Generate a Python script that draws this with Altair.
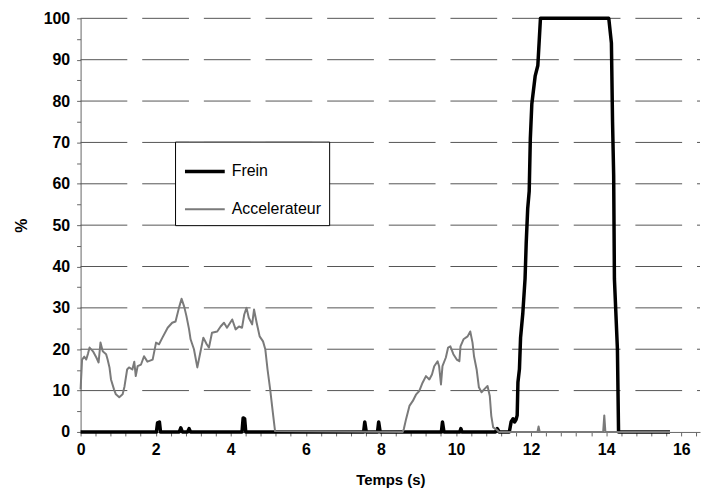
import altair as alt
import pandas as pd

# ---- data ----
series_names = ["Frein", "Accelerateur"]

frein_t = [0.00, 2.02, 2.05, 2.10, 2.13, 2.63, 2.67, 2.71, 2.85, 2.89, 2.93,
           4.30, 4.33, 4.37, 4.40, 7.54, 7.57, 7.61, 7.91, 7.94, 7.98,
           9.61, 9.64, 9.68, 10.10, 10.13, 10.16, 11.05, 11.10, 11.15,
           11.42, 11.47, 11.52, 11.56, 11.60, 11.63, 11.65, 11.69, 11.72,
           11.78, 11.84, 11.87, 11.91, 11.95, 11.98, 12.02, 12.11, 12.18,
           12.25, 14.07, 14.14, 14.17, 14.20, 14.22, 14.30, 14.33, 15.70]
frein_v = [0, 0, 2.2, 2.4, 0, 0, 1.0, 0, 0, 0.8, 0,
           0, 3.4, 3.2, 0, 0, 2.4, 0, 0, 2.4, 0,
           0, 2.4, 0, 0, 0.8, 0, 0, 0.8, 0,
           0, 2.5, 3.2, 2.4, 3.0, 4.0, 12.0, 15.2, 22.8,
           28.7, 37.1, 45.6, 54.0, 58.2, 70.9, 79.3, 86.1, 88.6,
           100, 100, 94, 75, 62, 37, 20, 0, 0]

accel_t = [0.00, 0.04, 0.10, 0.15, 0.20, 0.24, 0.33, 0.42, 0.48, 0.53, 0.59,
           0.68, 0.72, 0.77, 0.81, 0.89, 0.94, 1.03, 1.12, 1.17, 1.24,
           1.29, 1.38, 1.43, 1.47, 1.52, 1.61, 1.69, 1.78, 1.92, 2.01,
           2.09, 2.18, 2.32, 2.44, 2.53, 2.62, 2.69, 2.76, 2.82, 2.89,
           2.93, 3.02, 3.11, 3.18, 3.27, 3.36, 3.42, 3.50, 3.64, 3.73,
           3.82, 3.90, 4.04, 4.13, 4.22, 4.30, 4.36, 4.42, 4.48, 4.57,
           4.62, 4.69, 4.77, 4.86, 4.92, 4.98, 5.05, 5.12, 5.18,
           8.58, 8.61, 8.67, 8.76, 8.85, 8.94, 9.02, 9.11, 9.20, 9.29,
           9.36, 9.42, 9.51, 9.55, 9.60, 9.64, 9.73, 9.79, 9.85, 9.93,
           10.02, 10.09, 10.12, 10.20, 10.31, 10.38, 10.44, 10.48, 10.55,
           10.61, 10.68, 10.75, 10.84, 10.90, 10.94, 10.99, 11.06, 11.15,
           12.17, 12.20, 12.23, 13.92, 13.95, 13.98, 15.70]
accel_v = [10.3, 17.5, 18.2, 17.5, 19.0, 20.4, 19.5, 18.0, 16.8, 21.6, 19.5,
           18.8, 17.5, 15.6, 12.7, 10.3, 9.1, 8.4, 9.1, 11.0, 15.1,
           15.6, 15.1, 17.0, 13.5, 15.9, 16.3, 18.3, 17.0, 17.5, 21.6,
           21.2, 22.8, 25.2, 26.4, 26.7, 30.0, 32.2, 30.3, 28.0, 24.8,
           22.4, 20.0, 15.6, 18.8, 22.8, 21.2, 20.4, 24.0, 24.3, 25.5,
           26.4, 25.2, 27.2, 24.8, 25.5, 25.2, 28.4, 30.0, 27.6, 26.0,
           29.6, 26.4, 23.1, 21.9, 20.0, 15.1, 10.3, 4.8, 0.2,
           0.0, 0.7, 3.1, 6.3, 7.5, 9.1, 9.9, 11.9, 13.5, 12.7,
           13.9, 15.9, 17.1, 15.9, 11.5, 15.9, 18.0, 20.4, 20.7, 18.8,
           17.5, 17.1, 20.7, 22.4, 23.1, 24.3, 21.6, 18.3, 15.1,
           10.8, 9.6, 10.3, 11.1, 8.7, 3.9, 1.1, 0.7, 0.0,
           0.0, 1.3, 0.0, 0.0, 4.0, 0.0, 0.0]

x_ticks = [round(i * 0.4, 1) for i in range(42)]
y_ticks = list(range(0, 101, 5))
y_grid = list(range(10, 101, 10))

df = pd.concat([
    pd.DataFrame({"t": frein_t, "v": frein_v, "serie": "Frein"}),
    pd.DataFrame({"t": accel_t, "v": accel_v, "serie": "Accelerateur"}),
], ignore_index=True)
grid_df = pd.DataFrame({"v": y_grid})

FONT = "Liberation Sans"

legend = alt.Legend(
    title=None, orient="none", legendX=95, legendY=124,
    symbolType="stroke", symbolSize=1600, labelFont=FONT, labelFontSize=16,
    labelColor="black", labelOffset=5, padding=8, rowPadding=9,
    strokeColor="black", fillColor="white",
)

y_scale = alt.Scale(domain=[0, 100], nice=False)

x_enc = alt.X(
    "t:Q",
    scale=alt.Scale(domain=[0, 16.5], nice=False, zero=False),
    axis=alt.Axis(
        values=x_ticks,
        labelExpr="datum.value % 2 == 0 ? format(datum.value, 'd') : ''",
        labelOverlap=False, labelFlush=False, grid=False,
        title="Temps (s)", titleFont=FONT, titleFontSize=15, titleFontWeight="bold",
        titlePadding=15, titleColor="black",
        labelFont=FONT, labelFontSize=16, labelFontWeight="bold", labelColor="black",
        labelPadding=6, tickSize=4, tickColor="#666", domainColor="#666",
    ),
)
y_axis = alt.Axis(
    values=y_ticks,
    labelExpr="datum.value % 10 == 0 ? datum.label : ''",
    labelOverlap=False, labelFlush=False, grid=False,
    title="%", titleFont=FONT, titleFontSize=16, titleFontWeight="bold",
    titlePadding=14, titleColor="black",
    labelFont=FONT, labelFontSize=16, labelFontWeight="bold", labelColor="black",
    labelPadding=7, tickSize=4, tickColor="#666", domainColor="#666",
)
y_enc = alt.Y("v:Q", scale=y_scale, axis=y_axis)

color_enc = alt.Color("serie:N", scale=alt.Scale(domain=series_names, range=["#000000", "#7a7a7a"]), legend=legend)
sw_enc = alt.StrokeWidth("serie:N", scale=alt.Scale(domain=series_names, range=[3.5, 2.0]), legend=legend)

grid = alt.Chart(grid_df).mark_rule(
    color="#555", strokeWidth=1, strokeDash=[47, 15], strokeDashOffset=44
).encode(y=y_enc)

base = alt.Chart(df).mark_line(strokeJoin="round").encode(
    x=x_enc, y=y_enc, color=color_enc, strokeWidth=sw_enc, order="t:Q"
)

frein = base.transform_filter(alt.datum.serie == "Frein")
accel = base.transform_filter(alt.datum.serie == "Accelerateur")

chart = alt.layer(grid, frein, accel).properties(
    width=623, height=416,
    autosize=alt.AutoSizeParams(type="none"),
    padding={"left": 73, "top": 9, "right": 2, "bottom": 60},
    background="white",
).configure_view(stroke=None)

chart.save("out.html", embed_options={"renderer": "svg", "actions": False})
